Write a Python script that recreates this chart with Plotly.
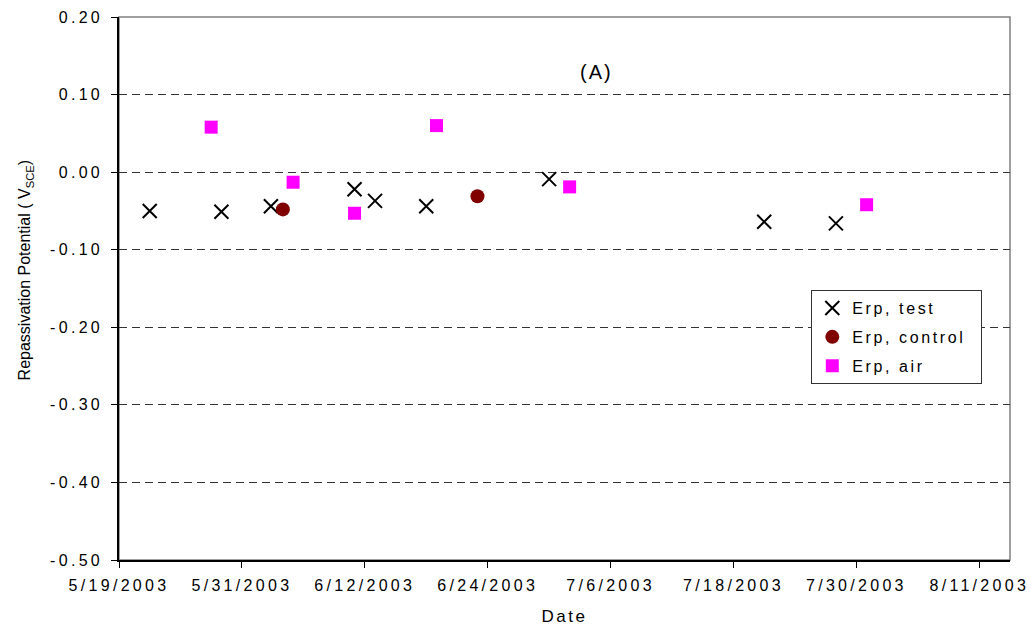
import plotly.graph_objects as go

test_dates = ["2003-05-22", "2003-05-29", "2003-06-02 20:00", "2003-06-11", "2003-06-13", "2003-06-18",
              "2003-06-30", "2003-07-21", "2003-07-28"]
test_vals = [-0.050, -0.051, -0.044, -0.022, -0.037, -0.044, -0.009, -0.064, -0.066]

control_dates = ["2003-06-04", "2003-06-23"]
control_vals = [-0.048, -0.031]

air_dates = ["2003-05-28", "2003-06-05", "2003-06-11", "2003-06-19", "2003-07-02", "2003-07-31"]
air_vals = [0.058, -0.013, -0.053, 0.060, -0.019, -0.042]

x_tick_vals = ["2003-05-19", "2003-05-31", "2003-06-12", "2003-06-24", "2003-07-06",
               "2003-07-18", "2003-07-30", "2003-08-11"]
x_tick_text = ["5/19/2003", "5/31/2003", "6/12/2003", "6/24/2003", "7/6/2003",
               "7/18/2003", "7/30/2003", "8/11/2003"]

y_tick_vals = [0.2, 0.1, 0.0, -0.1, -0.2, -0.3, -0.4, -0.5]
y_tick_text = ["0.20", "0.10", "0.00", "-0.10", "-0.20", "-0.30", "-0.40", "-0.50"]

FONT = "Liberation Sans, Arial, sans-serif"

fig = go.Figure()
fig.add_trace(go.Scatter(x=test_dates, y=test_vals, mode="markers", name="Erp, test", legendgroup="t",
                         marker=dict(symbol="x-thin", size=14, line=dict(width=2, color="black"),
                                     color="black")))
fig.add_trace(go.Scatter(x=control_dates, y=control_vals, mode="markers", name="Erp, control",
                         legendgroup="c", marker=dict(symbol="circle", size=14, color="#800000")))
fig.add_trace(go.Scatter(x=air_dates, y=air_vals, mode="markers", name="Erp, air", legendgroup="a",
                         marker=dict(symbol="square", size=13, color="#FF00FF")))

fig.add_shape(type="rect", xref="paper", yref="paper", x0=0, y0=0, x1=1, y1=1,
              line=dict(color="#808080", width=1.5), layer="below")

fig.add_annotation(x="2003-07-04 16:00", y=0.129, xref="x", yref="y", text="(A)", showarrow=False,
                   font=dict(family=FONT, size=20, color="black"))

fig.add_annotation(x=-0.118, y=0.534, xref="paper", yref="paper", textangle=-90,
                   text="Repassivation Potential ( V<sub>SCE</sub>)", showarrow=False,
                   font=dict(family=FONT, size=16, color="black"))

fig.update_layout(
    width=1033, height=633,
    margin=dict(l=119, r=23, t=17, b=73),
    plot_bgcolor="white", paper_bgcolor="white",
    font=dict(family=FONT, size=16, color="black"),
    showlegend=True,
    legend=dict(x=0.777, y=0.497, xanchor="left", yanchor="top", bgcolor="white",
                bordercolor="#333333", borderwidth=1, font=dict(size=16, family=FONT),
                tracegroupgap=5),
    xaxis=dict(type="date", range=["2003-05-19", "2003-08-14"], tickvals=x_tick_vals,
               ticktext=x_tick_text, showgrid=False, showline=True, linecolor="black", linewidth=1.5,
               ticks="outside", ticklen=6, tickcolor="black", zeroline=False, automargin=False,
               ticklabelstandoff=4,
               title=dict(text="Date", font=dict(size=17), standoff=17),
               tickfont=dict(size=16)),
    yaxis=dict(range=[-0.5, 0.2], tickvals=y_tick_vals, ticktext=y_tick_text, showgrid=True,
               gridcolor="#333333", griddash="8px,5px", gridwidth=1, showline=True,
               linecolor="black", linewidth=1.5, ticks="outside", ticklen=6, tickcolor="black",
               zeroline=False, tickfont=dict(size=16), automargin=False, ticklabelstandoff=5),
)

post = """
var s=document.createElement('style');
s.innerHTML='.xtick text,.ytick text{letter-spacing:3.3px}.legendtext{letter-spacing:2.6px}.g-xtitle text{letter-spacing:2.5px}.annotation[data-index="0"] text{letter-spacing:2px}';
document.head.appendChild(s);
var gd=document.getElementById('{plot_id}');
gd.querySelectorAll('.legend rect.bg').forEach(function(r){r.setAttribute('width', 170);});
gd.querySelectorAll('clipPath[id^="legend"] rect').forEach(function(r){r.setAttribute('width', 170);});
"""
fig.write_html("out.html", post_script=post)
